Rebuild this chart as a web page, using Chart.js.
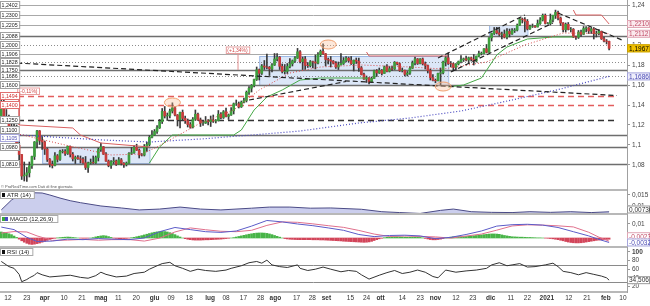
<!DOCTYPE html>
<html>
<head>
<meta charset="utf-8">
<script src="https://cdn.jsdelivr.net/npm/chart.js@4.4.0/dist/chart.umd.min.js"></script>
<style>
  body { margin: 0; background: #fff; width: 650px; height: 306px; overflow: hidden; position: relative; }
  .panel { position: absolute; left: 0; width: 650px; }
  .sep { position: absolute; left: 0; width: 627px; height: 2px; background: #b8b8b8; }
</style>
</head>
<body>
<div class="panel" style="top:0;height:190px"><canvas id="main"></canvas></div>
<div class="panel" style="top:190px;height:24px"><canvas id="atr"></canvas></div>
<div class="panel" style="top:214px;height:33px"><canvas id="macd"></canvas></div>
<div class="panel" style="top:247px;height:59px"><canvas id="rsi"></canvas></div>
<div class="sep" style="top:189px"></div>
<div class="sep" style="top:213px"></div>
<div class="sep" style="top:246px"></div>
<div class="sep" style="top:291px"></div>
<script>
/* EUR/USD daily, 9 mar 2020 -> 4 feb 2021, one slot per trading day */
const opens = [
1.1285,1.1425,1.1284,1.1268,1.1186,1.1105,1.1180,1.0997,1.0905,1.0690,
1.0700,1.0722,1.0792,1.0885,1.1030,1.1141,1.1045,1.1031,1.0960,1.0856,
1.0807,1.0795,1.0892,1.0856,1.0935,1.0937,1.0915,1.0987,1.0907,1.0862,
1.0875,1.0863,1.0857,1.0822,1.0775,1.0820,1.0826,1.0821,1.0875,1.0955,
1.0982,1.0908,1.0839,1.0795,1.0833,1.0840,1.0807,1.0851,1.0817,1.0805,
1.0819,1.0917,1.0923,1.0977,1.0948,1.0901,1.0899,1.0980,1.1005,1.1077,
1.1100,1.1135,1.1172,1.1234,1.1336,1.1290,1.1295,1.1340,1.1372,1.1300,
1.1255,1.1326,1.1266,1.1243,1.1205,1.1178,1.1258,1.1308,1.1250,1.1220,
1.1220,1.1240,1.1234,1.1251,1.1239,1.1245,1.1308,1.1275,1.1333,1.1286,
1.1300,1.1342,1.1412,1.1412,1.1382,1.1428,1.1445,1.1527,1.1568,1.1595,
1.1655,1.1752,1.1717,1.1790,1.1780,1.1778,1.1760,1.1800,1.1860,1.1878,
1.1787,1.1734,1.1737,1.1785,1.1812,1.1842,1.1870,1.1932,1.1834,1.1860,
1.1796,1.1793,1.1833,1.1830,1.1819,1.1903,1.1936,1.1912,1.1855,1.1850,
1.1838,1.1818,1.1780,1.1800,1.1815,1.1845,1.1868,1.1845,1.1813,1.1848,
1.1838,1.1772,1.1705,1.1659,1.1672,1.1631,1.1666,1.1743,1.1721,1.1746,
1.1716,1.1782,1.1737,1.1763,1.1760,1.1827,1.1812,1.1745,1.1746,1.1707,
1.1719,1.1768,1.1820,1.1860,1.1815,1.1860,1.1812,1.1795,1.1745,1.1674,
1.1647,1.1642,1.1716,1.1722,1.1830,1.1872,1.1814,1.1812,1.1777,1.1810,
1.1834,1.1853,1.1862,1.1850,1.1872,1.1857,1.1840,1.1889,1.1914,1.1916,
1.1963,1.1927,1.2072,1.2115,1.2143,1.2121,1.2107,1.2109,1.2079,1.2136,
1.2110,1.2144,1.2149,1.2198,1.2260,1.2255,1.2237,1.2160,1.2187,1.2188,
1.2180,1.2214,1.2250,1.2297,1.2216,1.2216,1.2251,1.2297,1.2326,1.2270,
1.2220,1.2153,1.2207,1.2156,1.2157,1.2080,1.2077,1.2129,1.2107,1.2165,
1.2171,1.2140,1.2161,1.2114,1.2115,1.2136,1.2062,1.2040,1.2036
];
const highs = [
1.1495,1.1450,1.1355,1.1300,1.1240,1.1235,1.1200,1.1040,1.0905,1.0830,
1.0775,1.0830,1.0890,1.1035,1.1147,1.1145,1.1085,1.1040,1.0970,1.0865,
1.0840,1.0925,1.0905,1.0950,1.0955,1.0955,1.0990,1.0990,1.0925,1.0890,
1.0895,1.0890,1.0875,1.0885,1.0830,1.0860,1.0890,1.0890,1.0970,1.1019,
1.0985,1.0925,1.0850,1.0845,1.0875,1.0850,1.0875,1.0865,1.0825,1.0830,
1.0925,1.0975,1.0995,1.1008,1.0960,1.0915,1.1005,1.1030,1.1095,1.1145,
1.1155,1.1195,1.1255,1.1365,1.1385,1.1320,1.1360,1.1422,1.1385,1.1305,
1.1330,1.1350,1.1290,1.1260,1.1225,1.1275,1.1350,1.1320,1.1270,1.1245,
1.1285,1.1255,1.1290,1.1300,1.1255,1.1345,1.1325,1.1345,1.1370,1.1310,
1.1375,1.1420,1.1450,1.1430,1.1440,1.1470,1.1540,1.1585,1.1605,1.1660,
1.1780,1.1760,1.1805,1.1845,1.1910,1.1785,1.1815,1.1915,1.1915,1.1885,
1.1810,1.1805,1.1815,1.1865,1.1850,1.1885,1.1966,1.1945,1.1880,1.1885,
1.1825,1.1845,1.1840,1.1900,1.1925,1.1950,1.2011,1.1915,1.1870,1.1885,
1.1845,1.1835,1.1830,1.1915,1.1875,1.1885,1.1880,1.1885,1.1850,1.1870,
1.1870,1.1785,1.1720,1.1690,1.1675,1.1680,1.1750,1.1755,1.1770,1.1755,
1.1790,1.1805,1.1785,1.1790,1.1835,1.1830,1.1820,1.1770,1.1750,1.1735,
1.1785,1.1840,1.1880,1.1865,1.1865,1.1870,1.1830,1.1800,1.1760,1.1705,
1.1660,1.1720,1.1770,1.1840,1.1890,1.1920,1.1835,1.1820,1.1815,1.1840,
1.1895,1.1870,1.1890,1.1880,1.1880,1.1905,1.1890,1.1940,1.1930,1.1965,
1.2005,1.2075,1.2120,1.2175,1.2177,1.2165,1.2130,1.2150,1.2165,1.2160,
1.2165,1.2165,1.2210,1.2273,1.2270,1.2273,1.2255,1.2200,1.2210,1.2195,
1.2250,1.2275,1.2310,1.2310,1.2225,1.2310,1.2300,1.2349,1.2340,1.2280,
1.2225,1.2220,1.2225,1.2175,1.2165,1.2090,1.2145,1.2150,1.2185,1.2185,
1.2175,1.2170,1.2175,1.2140,1.2155,1.2140,1.2080,1.2055,1.2040
];
const lows = [
1.1280,1.1250,1.1255,1.1055,1.1055,1.1090,1.0960,1.0800,1.0655,1.0640,
1.0636,1.0680,1.0765,1.0855,1.0970,1.1005,1.0955,1.0905,1.0835,1.0780,
1.0770,1.0790,1.0830,1.0845,1.0920,1.0895,1.0905,1.0880,1.0840,1.0815,
1.0855,1.0820,1.0815,1.0755,1.0727,1.0810,1.0815,1.0815,1.0840,1.0935,
1.0905,1.0835,1.0782,1.0767,1.0815,1.0795,1.0805,1.0800,1.0775,1.0790,
1.0815,1.0905,1.0915,1.0945,1.0870,1.0890,1.0890,1.0935,1.0990,1.1070,
1.1095,1.1115,1.1165,1.1215,1.1270,1.1245,1.1270,1.1320,1.1290,1.1190,
1.1170,1.1250,1.1215,1.1180,1.1168,1.1170,1.1245,1.1245,1.1185,1.1195,
1.1215,1.1200,1.1185,1.1225,1.1220,1.1240,1.1260,1.1265,1.1280,1.1255,
1.1295,1.1310,1.1395,1.1370,1.1375,1.1420,1.1430,1.1505,1.1530,1.1580,
1.1645,1.1650,1.1705,1.1755,1.1760,1.1695,1.1730,1.1795,1.1840,1.1755,
1.1720,1.1710,1.1715,1.1770,1.1790,1.1825,1.1865,1.1820,1.1755,1.1755,
1.1775,1.1780,1.1770,1.1760,1.1810,1.1885,1.1905,1.1790,1.1810,1.1780,
1.1810,1.1765,1.1755,1.1800,1.1805,1.1830,1.1830,1.1805,1.1740,1.1815,
1.1735,1.1700,1.1655,1.1625,1.1612,1.1625,1.1665,1.1685,1.1715,1.1700,
1.1715,1.1730,1.1730,1.1745,1.1755,1.1800,1.1735,1.1730,1.1690,1.1690,
1.1705,1.1765,1.1800,1.1805,1.1810,1.1800,1.1760,1.1720,1.1650,1.1640,
1.1622,1.1640,1.1603,1.1710,1.1790,1.1805,1.1780,1.1745,1.1745,1.1800,
1.1820,1.1835,1.1840,1.1815,1.1840,1.1800,1.1830,1.1880,1.1900,1.1910,
1.1920,1.1925,1.2040,1.2105,1.2110,1.2090,1.2060,1.2070,1.2060,1.2080,
1.2105,1.2125,1.2140,1.2195,1.2220,1.2130,1.2150,1.2155,1.2175,1.2175,
1.2180,1.2205,1.2240,1.2210,1.2210,1.2200,1.2230,1.2265,1.2250,1.2195,
1.2130,1.2130,1.2150,1.2130,1.2075,1.2055,1.2065,1.2085,1.2105,1.2130,
1.2115,1.2115,1.2060,1.2080,1.2100,1.2055,1.2030,1.2010,1.1952
];
const closes = [
1.1425,1.1284,1.1268,1.1186,1.1105,1.1180,1.0997,1.0905,1.0690,1.0700,
1.0722,1.0792,1.0885,1.1030,1.1141,1.1045,1.1031,1.0960,1.0856,1.0807,
1.0795,1.0892,1.0856,1.0935,1.0937,1.0915,1.0987,1.0907,1.0862,1.0875,
1.0863,1.0857,1.0822,1.0775,1.0820,1.0826,1.0821,1.0875,1.0955,1.0982,
1.0908,1.0839,1.0795,1.0833,1.0840,1.0807,1.0851,1.0817,1.0805,1.0819,
1.0917,1.0923,1.0977,1.0948,1.0901,1.0899,1.0980,1.1005,1.1077,1.1100,
1.1135,1.1172,1.1234,1.1336,1.1290,1.1295,1.1340,1.1372,1.1300,1.1255,
1.1326,1.1266,1.1243,1.1205,1.1178,1.1258,1.1308,1.1250,1.1220,1.1220,
1.1240,1.1234,1.1251,1.1239,1.1245,1.1308,1.1275,1.1333,1.1286,1.1300,
1.1342,1.1412,1.1412,1.1382,1.1428,1.1445,1.1527,1.1568,1.1595,1.1655,
1.1752,1.1717,1.1790,1.1780,1.1778,1.1760,1.1800,1.1860,1.1878,1.1787,
1.1734,1.1737,1.1785,1.1812,1.1842,1.1870,1.1932,1.1834,1.1860,1.1796,
1.1793,1.1833,1.1830,1.1819,1.1903,1.1936,1.1912,1.1855,1.1850,1.1838,
1.1818,1.1780,1.1800,1.1815,1.1845,1.1868,1.1845,1.1813,1.1848,1.1838,
1.1772,1.1705,1.1659,1.1672,1.1631,1.1666,1.1743,1.1721,1.1746,1.1716,
1.1782,1.1737,1.1763,1.1760,1.1827,1.1812,1.1745,1.1746,1.1707,1.1719,
1.1768,1.1820,1.1860,1.1815,1.1860,1.1812,1.1795,1.1745,1.1674,1.1647,
1.1642,1.1716,1.1722,1.1830,1.1872,1.1814,1.1812,1.1777,1.1810,1.1834,
1.1853,1.1862,1.1850,1.1872,1.1857,1.1840,1.1889,1.1914,1.1916,1.1963,
1.1927,1.2072,1.2115,1.2143,1.2121,1.2107,1.2109,1.2079,1.2136,1.2110,
1.2144,1.2149,1.2198,1.2260,1.2255,1.2237,1.2160,1.2187,1.2188,1.2180,
1.2214,1.2250,1.2297,1.2216,1.2216,1.2251,1.2297,1.2326,1.2270,1.2220,
1.2153,1.2207,1.2156,1.2157,1.2080,1.2077,1.2129,1.2107,1.2165,1.2171,
1.2140,1.2161,1.2114,1.2115,1.2136,1.2062,1.2040,1.2036,1.1967
];

/* moving averages (slot, price) */
const ma50Idx = [5, 25, 43, 55, 61, 78, 91, 101, 113, 125, 141, 160, 173, 190, 205, 220, 238];
const ma50 = [1.112, 1.100, 1.090, 1.091, 1.098, 1.122, 1.135, 1.155, 1.172, 1.178, 1.180, 1.178, 1.176, 1.183, 1.200, 1.212, 1.2112];
const ma200Idx = [5, 20, 40, 58, 78, 98, 117, 140, 160, 180, 200, 219, 238];
const ma200 = [1.1105, 1.108, 1.105, 1.103, 1.106, 1.110, 1.114, 1.122, 1.127, 1.134, 1.145, 1.156, 1.1686];

/* trailing stop, red above price / green below (null = break) */
const stopRedIdx = [0, 7, 7, 28, 31, 34, 39, 58, null, 143, 144, 175, null, 224, 225, 235, 238];
const stopRed = [1.1495, 1.1495, 1.120, 1.117, 1.110, 1.107, 1.102, 1.098, null, 1.193, 1.189, 1.189, null, 1.235, 1.230, 1.230, 1.2210];
const stopGreenIdx = [58, 62, 67, 91, 94, 99, 104, 110, 117, 125, 143, null, 175, 181, 188, 194, 198, 206, 216, 224];
const stopGreen = [1.082, 1.098, 1.110, 1.110, 1.115, 1.135, 1.148, 1.155, 1.165, 1.167, 1.167, null, 1.158, 1.160, 1.167, 1.190, 1.198, 1.206, 1.208, 1.208];

/* hand-drawn trend lines */
const trendX0 = [0, 171, 176, 218, 97];
const trendY0 = [1.1828, 1.187, 1.173, 1.232, 1.145];
const trendX1 = [241, 205, 216, 243, 135];
const trendY1 = [1.1495, 1.230, 1.222, 1.205, 1.1635];

/* horizontal levels */
const levelValues = [1.2402, 1.2300, 1.2205, 1.2088, 1.2000, 1.1906, 1.1828, 1.1750, 1.1686, 1.1600, 1.1494, 1.1400, 1.1250, 1.1100, 1.0980, 1.0810];
const levelKinds = ['light','light','light','dark','dot','light','dot','dark','dot','dark','red','red','black','dark','dark','dark'];

/* shaded congestion zones and circled pivots */
const zoneStart = [16, 101, 191];
const zoneEnd = [58, 175, 206];
const zoneHigh = [1.098, 1.189, 1.220];
const zoneLow = [1.082, 1.160, 1.209];
const markIdx = [67, 128, 173];
const markPrice = [1.1425, 1.2005, 1.1585];
const pctText = ['(-0,11%)', '(+1,34%)'];
const pctIdx = [10.5, 92.5];
const pctPrice = [1.1540, 1.1950];

/* ATR(14) */
const atrIdx = [0, 4, 7, 13, 16, 19, 23, 27, 31, 39, 47, 54, 62, 70, 78, 86, 98, 105, 113, 121, 129, 141, 149, 156, 164, 172, 177, 184, 192, 200, 207, 215, 223, 231, 238];
const atr = [0.0082, 0.0127, 0.0150, 0.0160, 0.0159, 0.0150, 0.0136, 0.0124, 0.0115, 0.0100, 0.0091, 0.0082, 0.0086, 0.0095, 0.0086, 0.0082, 0.0090, 0.0095, 0.0095, 0.0090, 0.0091, 0.0085, 0.0074, 0.0070, 0.0066, 0.0080, 0.0086, 0.0074, 0.0071, 0.0070, 0.0074, 0.0071, 0.0074, 0.0070, 0.00736];

/* MACD(12,26,9), in 1e-4 */
const macdIdx = [0, 5, 10, 14, 20, 26, 32, 38, 43, 50, 56, 62, 68, 74, 80, 86, 92, 98, 104, 110, 116, 122, 128, 134, 140, 146, 152, 158, 164, 170, 176, 182, 188, 194, 200, 206, 212, 218, 224, 230, 234, 238];
const macdLine = [78, 60, 5, -25, -22, -8, -12, -4, -8, -12, 0, 45, 75, 60, 45, 40, 50, 85, 125, 115, 100, 88, 72, 55, 25, 10, 18, 20, 15, -5, 5, 25, 50, 85, 95, 98, 92, 75, 45, 15, -10, -32];
const macdSignal = [35, 46, 43, 15, -17, -15, -10, -16, -12, -11, -22, -1, 43, 72, 59, 48, 45, 55, 90, 115, 112, 101, 88, 76, 54, 28, 11, 14, 11, 8, -1, 14, 28, 56, 86, 94, 92, 87, 79, 41, 6, -23];
const macdHist = [
43, 40, 36, 30, 24, 14, 4, -8, -20, -30,
-38, -44, -46, -44, -40, -36, -30, -24, -17, -10,
-5, -2, 1, 3, 5, 6, 7, 6, 4, 2,
0, -1, -2, -2, -1, 0, 3, 8, 12, 15,
17, 15, 10, 4, -1, -3, -5, -5, -4, -3,
-1, 2, 5, 9, 13, 17, 22, 27, 32, 37,
41, 44, 46, 47, 46, 43, 38, 32, 24, 15,
7, 0, -5, -9, -12, -14, -15, -15, -15, -14,
-13, -13, -12, -11, -10, -9, -8, -6, -4, -2,
0, 3, 7, 11, 15, 19, 23, 27, 30, 33,
35, 36, 36, 35, 33, 29, 24, 18, 12, 6,
0, -4, -7, -9, -10, -11, -12, -12, -12, -12,
-12, -12, -13, -13, -13, -14, -14, -15, -16, -17,
-18, -19, -20, -21, -23, -24, -25, -26, -27, -28,
-29, -30, -31, -30, -28, -24, -18, -12, -6, -2,
2, 5, 7, 8, 9, 9, 8, 7, 6, 5,
6, 7, 7, 6, 4, 1, -3, -7, -11, -13,
-13, -11, -8, -4, 0, 3, 6, 8, 9, 10,
10, 10, 11, 12, 14, 16, 18, 20, 22, 24,
26, 28, 29, 29, 28, 26, 22, 18, 15, 12,
9, 8, 7, 6, 6, 5, 4, 4, 3, 2,
1, 1, 0, -1, -2, -4, -6, -9, -12, -16,
-20, -25, -29, -32, -34, -35, -35, -34, -32, -29,
-26, -23, -20, -17, -15, -13, -11, -10, -9
];

/* RSI(14) */
const rsiIdx = [0, 2, 3, 5, 7, 8, 10, 11, 13, 14, 16, 19, 23, 27, 31, 34, 37, 39, 41, 45, 49, 52, 56, 58, 61, 63, 66, 68, 71, 74, 77, 80, 84, 88, 90, 94, 97, 100, 102, 104, 106, 109, 112, 116, 117, 120, 123, 126, 129, 133, 136, 139, 141, 144, 148, 151, 154, 157, 160, 163, 166, 169, 171, 174, 178, 182, 186, 190, 192, 195, 198, 200, 203, 206, 209, 213, 216, 218, 220, 223, 226, 229, 232, 235, 237, 238];
const rsi = [78, 70, 66, 62, 48, 31, 36, 40, 46, 52, 47, 42, 44, 46, 41, 39, 45, 53, 48, 42, 44, 50, 53, 60, 68, 73, 76, 68, 62, 55, 60, 57, 55, 58, 62, 68, 75, 78, 74, 81, 70, 66, 64, 70, 62, 57, 60, 65, 60, 54, 57, 55, 47, 37, 46, 52, 57, 50, 53, 58, 53, 43, 40, 58, 53, 56, 58, 62, 70, 75, 68, 70, 73, 65, 66, 70, 74, 66, 55, 52, 47, 52, 48, 44, 40, 34.506];

/* date axis */
const xTickPos = [2.6, 10, 17, 24.6, 31.6, 39, 45.8, 52.8, 60, 66.5, 73.6, 81.8, 88, 94.8, 101.5, 107.3, 115.6, 121.8, 127.3, 136.7, 143, 148.5, 157, 164, 170, 178, 184.6, 191.6, 199.5, 206, 213.6, 222.2, 229.3, 236.7, 243.4];
const xTickText = ['12','23','apr','10','21','mag','11','20','giu','09','18','lug','08','17','28','ago','17','28','set','15','24','ott','14','23','nov','12','23','dic','11','22','2021','12','21','feb','10'];
const monthTicks = ['apr','mag','giu','lug','ago','set','ott','nov','dic','2021','feb'];

const FONT = '"Liberation Sans", Arial, sans-serif';
const X_MIN = -0.5, X_MAX = 245;
const AXIS_W = 23;
const comma = v => String(v).replace('.', ',');

const LEVEL_STYLE = {
  light: { color: '#a9a9a9', width: 1, dash: [], from: 0 },
  dark:  { color: '#6e6e6e', width: 1.6, dash: [], from: 0 },
  dot:   { color: '#8c8c8c', width: 1, dash: [1, 2], from: 0 },
  red:   { color: '#e35d5d', width: 1.3, dash: [6, 4], from: 18, to: 616 },
  black: { color: '#333333', width: 1.3, dash: [6, 4], from: 18, to: 614 },
};

function pts(xs, ys) { return xs.map((x, i) => ({ x: x === null ? null : x, y: ys[i] })); }

function xAxis(show) {
  const s = { type: 'linear', min: X_MIN, max: X_MAX, offset: false, display: show };
  if (!show) return s;
  return Object.assign(s, {
    afterBuildTicks: sc => { sc.ticks = xTickPos.map(v => ({ value: v })); },
    afterFit: sc => { sc.height = 14; sc.paddingLeft = 0; sc.paddingRight = 0; },
    grid: { display: false, drawTicks: false }, border: { display: false },
    ticks: {
      autoSkip: false, maxRotation: 0, padding: 2, color: '#333',
      callback: (v, i) => xTickText[i],
      font: c => ({ family: FONT, size: 6.5, weight: monthTicks.includes(xTickText[c.index]) ? 'bold' : 'normal' }),
    },
  });
}

function yAxis(min, max, ticks, fmt, boldTop) {
  return {
    position: 'right', min, max,
    afterBuildTicks: sc => { sc.ticks = ticks.map(v => ({ value: v })); },
    afterFit: sc => { sc.width = AXIS_W; sc.paddingTop = 0; sc.paddingBottom = 0; },
    ticks: {
      font: c => ({ family: FONT, size: 6.5, weight: boldTop && c.index === ticks.length - 1 ? 'bold' : 'normal' }),
      color: '#444', padding: 2, callback: fmt,
    },
    grid: { drawOnChartArea: false, tickLength: 3, color: '#999' },
    border: { color: '#a0a0a0' },
  };
}

const base = {
  responsive: true, maintainAspectRatio: false, animation: false, events: [],
  layout: { padding: 0 },
  plugins: { legend: { display: false }, tooltip: { enabled: false } },
};

function valueBox(ctx, cy, text, fill, stroke, color) {
  ctx.font = '6.5px ' + FONT;
  const w = 22, h = 8;
  ctx.fillStyle = fill; ctx.fillRect(627.5, cy - h / 2, w, h);
  ctx.strokeStyle = stroke; ctx.lineWidth = 1; ctx.setLineDash([]);
  ctx.strokeRect(627.5, cy - h / 2 + 0.5, w, h - 1);
  ctx.fillStyle = color; ctx.textAlign = 'left'; ctx.textBaseline = 'middle';
  ctx.fillText(text, 629, cy + 0.5);
}

function titleBox(ctx, text, squares) {
  ctx.font = '6px ' + FONT;
  const w = ctx.measureText(text).width + 6 + squares.length * 4;
  ctx.fillStyle = '#fff'; ctx.fillRect(0, 1, w, 8);
  ctx.strokeStyle = '#aaa'; ctx.lineWidth = 1; ctx.strokeRect(0.5, 1.5, w, 7);
  squares.forEach((c, i) => { ctx.fillStyle = c; ctx.fillRect(2 + i * 3, 3, 3, 4); });
  ctx.fillStyle = '#222'; ctx.textBaseline = 'middle'; ctx.textAlign = 'left';
  ctx.fillText(text, 3 + squares.length * 3 + 1, 5.5);
}

function leftLabel(ctx, py, t, stroke, color) {
  const w = ctx.measureText(t).width + 3;
  ctx.fillStyle = '#fff'; ctx.fillRect(0, py - 4, w, 8);
  ctx.strokeStyle = stroke; ctx.lineWidth = 1; ctx.strokeRect(0.5, py - 3.5, w, 7);
  ctx.fillStyle = color; ctx.fillText(t, 1.5, py + 0.5);
}

const mainOverlay = {
  id: 'mainOverlay',
  beforeDatasetsDraw(chart) {
    const { ctx, chartArea: a, scales: { x, y } } = chart;
    ctx.save();
    zoneStart.forEach((s, i) => {
      const x0 = x.getPixelForValue(s), x1 = x.getPixelForValue(zoneEnd[i]);
      const y0 = y.getPixelForValue(zoneHigh[i]), y1 = y.getPixelForValue(zoneLow[i]);
      ctx.fillStyle = 'rgba(178,202,240,0.45)';
      ctx.fillRect(x0, y0, x1 - x0, y1 - y0);
      ctx.strokeStyle = 'rgba(150,180,228,0.9)'; ctx.lineWidth = 1;
      ctx.strokeRect(x0 + 0.5, y0 + 0.5, x1 - x0, y1 - y0);
    });
    levelValues.forEach((v, i) => {
      const st = LEVEL_STYLE[levelKinds[i]];
      const py = Math.round(y.getPixelForValue(v)) + 0.5;
      ctx.strokeStyle = st.color; ctx.lineWidth = st.width; ctx.setLineDash(st.dash);
      ctx.beginPath(); ctx.moveTo(st.from, py); ctx.lineTo(st.to || a.right, py); ctx.stroke();
    });
    ctx.restore();
  },
  afterDatasetsDraw(chart) {
    const { ctx, scales: { x, y } } = chart;
    ctx.save();
    markIdx.forEach((m, i) => {
      ctx.beginPath();
      ctx.ellipse(x.getPixelForValue(m), y.getPixelForValue(markPrice[i]), 8, 4.5, 0, 0, Math.PI * 2);
      ctx.fillStyle = 'rgba(250,190,150,0.35)'; ctx.fill();
      ctx.strokeStyle = '#f0a070'; ctx.lineWidth = 1; ctx.stroke();
    });
    // percent call-outs
    ctx.font = '5px ' + FONT; ctx.textAlign = 'center'; ctx.textBaseline = 'middle';
    pctText.forEach((t, i) => {
      const cx = x.getPixelForValue(pctIdx[i]), cy = y.getPixelForValue(pctPrice[i]);
      const w = ctx.measureText(t).width + 3;
      ctx.fillStyle = '#fff'; ctx.fillRect(cx - w / 2, cy - 3.5, w, 7);
      ctx.strokeStyle = '#e7a0a0'; ctx.lineWidth = 1; ctx.strokeRect(cx - w / 2 + 0.5, cy - 3, w, 6.5);
      ctx.fillStyle = '#d04848'; ctx.fillText(t, cx, cy + 0.5);
      if (i === 1) {
        ctx.strokeStyle = '#e39090';
        ctx.beginPath(); ctx.moveTo(cx + 0.5, cy + 3.5); ctx.lineTo(cx + 0.5, y.getPixelForValue(1.175)); ctx.stroke();
      }
    });
    // level labels on the left; the 200-day label sits just under the 1,1100 one
    ctx.font = '5.3px ' + FONT; ctx.textAlign = 'left'; ctx.textBaseline = 'middle';
    const maPy = Math.round(y.getPixelForValue(ma200[0]));
    levelValues.forEach((v, i) => {
      const red = levelKinds[i] === 'red';
      let py = Math.round(y.getPixelForValue(v));
      if (Math.abs(py - maPy) < 8) py = maPy - 4;
      leftLabel(ctx, py, comma(v.toFixed(4)), red ? '#e07070' : '#a0a0a0', red ? '#d03030' : '#222');
    });
    leftLabel(ctx, maPy + 4, comma(ma200[0].toFixed(4)), '#a8a8dc', '#5050b0');
    // current values on the right axis
    const lastRed = stopRed[stopRed.length - 1];
    valueBox(ctx, y.getPixelForValue(lastRed), comma(lastRed.toFixed(4)), '#fbeaee', '#e0a6b4', '#c04a66');
    valueBox(ctx, y.getPixelForValue(ma50[ma50.length - 1]), comma(ma50[ma50.length - 1].toFixed(4)), '#fbeaee', '#e0a6b4', '#c04a66');
    valueBox(ctx, y.getPixelForValue(closes[closes.length - 1]), comma(closes[closes.length - 1].toFixed(4)), '#f2c200', '#c9a000', '#000');
    valueBox(ctx, y.getPixelForValue(ma200[ma200.length - 1]), comma(ma200[ma200.length - 1].toFixed(4)), '#eeeefb', '#a6a6dc', '#4a4ab4');
    ctx.font = '4px ' + FONT; ctx.fillStyle = '#555'; ctx.textAlign = 'left'; ctx.textBaseline = 'middle';
    ctx.fillText('\u00a9 ProRealTime.com Dati di fine giornata', 1, 186.5);
    ctx.restore();
  },
};

const UP = '#3d9f3d', DOWN = '#c83c3c';
const lineDs = (data, color, extra) => Object.assign({
  type: 'line', data, borderColor: color, borderWidth: 1, pointRadius: 0, fill: false, tension: 0, spanGaps: false,
}, extra || {});

const trendSets = trendX0.map((x0, i) => lineDs([{ x: x0, y: trendY0[i] }, { x: trendX1[i], y: trendY1[i] }], '#222', { borderDash: [5, 3], borderWidth: 1.2 }));

new Chart(document.getElementById('main'), {
  type: 'bar',
  data: {
    datasets: [
      ...trendSets,
      lineDs(pts(ma50Idx, ma50), '#d84a4a', { borderDash: [1, 2] }),
      lineDs(pts(ma200Idx, ma200), '#4a4ac0', { borderDash: [1, 2], borderWidth: 1.2 }),
      lineDs(pts(stopRedIdx, stopRed), '#d86060'),
      lineDs(pts(stopGreenIdx, stopGreen), '#45a845'),
      {
        type: 'bar', grouped: false, barThickness: 2, borderWidth: 0,
        data: closes.map((c, i) => ({ x: i, y: [opens[i], c] })),
        backgroundColor: closes.map((c, i) => c >= opens[i] ? UP : DOWN),
      },
      {
        type: 'bar', grouped: false, barThickness: 1, borderWidth: 0,
        data: highs.map((h, i) => ({ x: i, y: [lows[i], h] })),
        backgroundColor: '#3a3a3a',
      },
    ],
  },
  options: Object.assign({}, base, {
    scales: {
      x: xAxis(false),
      y: yAxis(1.055, 1.245, [1.08, 1.10, 1.12, 1.14, 1.16, 1.18, 1.20, 1.22, 1.24], v => comma(+v.toFixed(2))),
    },
  }),
  plugins: [mainOverlay],
});

new Chart(document.getElementById('atr'), {
  type: 'line',
  data: { datasets: [lineDs(pts(atrIdx, atr), '#4b4b86', { fill: 'start', backgroundColor: 'rgba(140,146,214,0.45)' })] },
  options: Object.assign({}, base, {
    scales: { x: xAxis(false), y: yAxis(0.00635, 0.01727, [0.01, 0.015], v => comma(+v.toFixed(3))) },
  }),
  plugins: [{
    id: 'atrOverlay',
    afterDraw(chart) {
      const { ctx, chartArea: a, scales: { y } } = chart;
      ctx.save();
      titleBox(ctx, 'ATR (14)', ['#111']);
      const v = atr[atr.length - 1];
      valueBox(ctx, Math.min(y.getPixelForValue(v), a.bottom - 4.5), comma(v), '#fff', '#9a9a9a', '#333');
      ctx.restore();
    },
  }],
});

new Chart(document.getElementById('macd'), {
  type: 'bar',
  data: {
    datasets: [
      lineDs(macdIdx.map((x, i) => ({ x, y: macdLine[i] / 10000 })), '#5b5bc8'),
      lineDs(macdIdx.map((x, i) => ({ x, y: macdSignal[i] / 10000 })), '#e0708c'),
      {
        type: 'bar', barThickness: 2, borderWidth: 0,
        data: macdHist.map((v, i) => ({ x: i, y: v / 10000 })),
        backgroundColor: macdHist.map(v => v >= 0 ? '#47b447' : '#d2455a'),
      },
    ],
  },
  options: Object.assign({}, base, {
    scales: { x: xAxis(false), y: yAxis(-0.00643, 0.01714, [0.01], v => comma(+v.toFixed(2))) },
  }),
  plugins: [{
    id: 'macdOverlay',
    afterDraw(chart) {
      const { ctx, scales: { y } } = chart;
      ctx.save();
      titleBox(ctx, 'MACD (12,26,9)', ['#3aa83a', '#4a4ac0']);
      const s = macdSignal[macdSignal.length - 1] / 10000, m = macdLine[macdLine.length - 1] / 10000;
      valueBox(ctx, y.getPixelForValue(s) - 5, comma(s.toFixed(4)), '#fff', '#e0a6b4', '#c04a66');
      valueBox(ctx, Math.min(y.getPixelForValue(m), 28.5), comma(m.toFixed(4)), '#fff', '#a6a6dc', '#4a4ab4');
      ctx.restore();
    },
  }],
});

new Chart(document.getElementById('rsi'), {
  type: 'line',
  data: { datasets: [lineDs(pts(rsiIdx, rsi), '#333')] },
  options: Object.assign({}, base, {
    scales: { x: xAxis(true), y: yAxis(7, 111.6, [20, 40, 60, 80, 100], v => String(v), true) },
  }),
  plugins: [{
    id: 'rsiOverlay',
    beforeDatasetsDraw(chart) {
      const { ctx, chartArea: a, scales: { y } } = chart;
      ctx.save();
      ctx.strokeStyle = '#8a8a8a'; ctx.lineWidth = 1;
      [70, 30].forEach(v => {
        const py = Math.round(y.getPixelForValue(v)) + 0.5;
        ctx.beginPath(); ctx.moveTo(a.left, py); ctx.lineTo(a.right, py); ctx.stroke();
      });
      ctx.restore();
    },
    afterDraw(chart) {
      const { ctx, scales: { y } } = chart;
      ctx.save();
      titleBox(ctx, 'RSI (14)', ['#111']);
      const v = rsi[rsi.length - 1];
      valueBox(ctx, y.getPixelForValue(v), comma(v), '#fff', '#9a9a9a', '#333');
      ctx.restore();
    },
  }],
});
</script>
</body>
</html>
